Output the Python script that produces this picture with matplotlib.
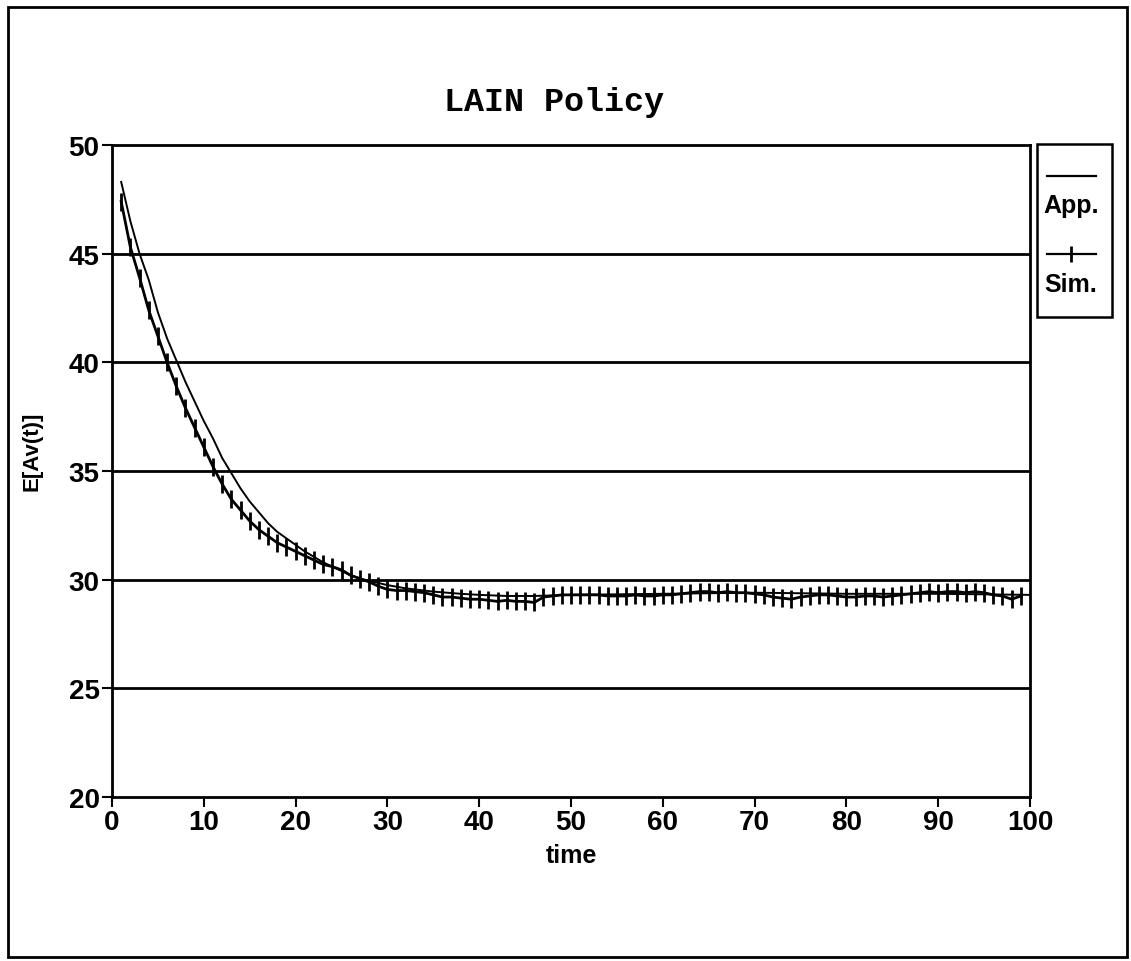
import matplotlib
matplotlib.use('Agg')
from matplotlib import pyplot as plt
from matplotlib.lines import Line2D
from matplotlib.patches import Rectangle

# simulated E[Av(t)], one sample per unit of time
sim_t = list(range(1, 100))
sim_v = [47.4, 45.3, 43.9, 42.4, 41.2, 40.0, 38.9, 37.9, 37.0, 36.1,
         35.2, 34.4, 33.7, 33.2, 32.7, 32.3, 32.0, 31.7, 31.5, 31.3,
         31.1, 30.9, 30.7, 30.6, 30.45, 30.2, 30.05, 29.9, 29.7, 29.55,
         29.5, 29.5, 29.45, 29.4, 29.3, 29.2, 29.2, 29.15, 29.1, 29.1,
         29.05, 29.0, 29.05, 29.0, 29.0, 28.95, 29.2, 29.25, 29.3, 29.3,
         29.3, 29.3, 29.3, 29.25, 29.25, 29.25, 29.3, 29.25, 29.25, 29.3,
         29.3, 29.35, 29.4, 29.45, 29.45, 29.4, 29.45, 29.4, 29.4, 29.35,
         29.3, 29.2, 29.15, 29.1, 29.2, 29.25, 29.3, 29.3, 29.25, 29.2,
         29.2, 29.25, 29.25, 29.2, 29.25, 29.3, 29.35, 29.4, 29.45, 29.4,
         29.45, 29.45, 29.4, 29.45, 29.4, 29.3, 29.25, 29.1, 29.25]

# approximation curve
app_t = [1, 2, 3, 4, 5, 6, 7, 8, 9, 10, 11, 12, 13, 14, 15, 16, 17, 18, 19, 20,
         21, 22, 23, 24, 25, 26, 27, 28, 30, 32, 35, 38, 40, 43, 46, 50, 60, 70, 80, 90, 100]
app_v = [48.3, 46.5, 45.0, 43.8, 42.3, 41.1, 40.1, 39.1, 38.2, 37.3,
         36.5, 35.6, 34.9, 34.2, 33.6, 33.1, 32.6, 32.2, 31.9, 31.6,
         31.3, 31.05, 30.8, 30.6, 30.4, 30.2, 30.05, 29.95, 29.75, 29.6,
         29.45, 29.35, 29.3, 29.25, 29.25, 29.3, 29.35, 29.4, 29.35, 29.35, 29.3]

x_ticks = [0, 10, 20, 30, 40, 50, 60, 70, 80, 90, 100]
y_ticks = [20, 25, 30, 35, 40, 45, 50]

W, H = 1131, 962
plt.rcParams['font.family'] = ['Liberation Sans', 'DejaVu Sans']

fig = plt.figure(figsize=(W / 100, H / 100), dpi=100)
ax = fig.add_axes([112 / W, 1 - 798 / H, (1030 - 112) / W, (798 - 146) / H])

for y in y_ticks[1:-1]:
    ax.axhline(y, color='black', lw=2.0, zorder=1)

ax.plot(app_t, app_v, color='black', lw=1.4, zorder=3)
ax.plot(sim_t, sim_v, color='black', lw=2.0, marker='|', markersize=13,
        markeredgewidth=2.0, zorder=4)

ax.set_xlim(0, 100)
ax.set_ylim(20, 50)
ax.set_xticks(x_ticks)
ax.set_yticks(y_ticks)
ax.tick_params(direction='out', length=7, width=1.5, labelsize=20, pad=2)
for lbl in ax.get_xticklabels() + ax.get_yticklabels():
    lbl.set_fontweight('bold')
for s in ax.spines.values():
    s.set_linewidth(2.0)

ax.set_xlabel('time', fontsize=18, fontweight='bold')
ax.xaxis.set_label_coords(0.5, -0.07)
ax.set_ylabel('E[Av(t)]', fontsize=16, fontweight='bold')
ax.yaxis.set_label_coords(-0.076, 0.531)

fig.text(554 / W, 1 - 103 / H, 'LAIN Policy', ha='center', va='center',
         fontsize=24, fontweight='bold', family=['Liberation Mono', 'DejaVu Sans Mono'])

# legend box drawn by hand: sample line above each label
fig.add_artist(Rectangle((1037 / W, 1 - 318 / H), 75 / W, 173 / H,
                         transform=fig.transFigure, fill=False, lw=1.8, color='black'))
fig.add_artist(Line2D([1047 / W, 1096 / W], [1 - 177 / H] * 2,
                      transform=fig.transFigure, color='black', lw=1.6))
fig.text(1071 / W, 1 - 206 / H, 'App.', ha='center', va='center',
         fontsize=18, fontweight='bold')
fig.add_artist(Line2D([1047 / W, 1071 / W, 1096 / W], [1 - 255 / H] * 3,
                      transform=fig.transFigure, color='black', lw=1.6,
                      marker='|', markevery=[1], markersize=12, markeredgewidth=2.0))
fig.text(1071 / W, 1 - 285 / H, 'Sim.', ha='center', va='center',
         fontsize=18, fontweight='bold')

# outer frame
fig.add_artist(Rectangle((8 / W, 1 - 958 / H), 1119 / W, 950 / H,
                         transform=fig.transFigure, fill=False, lw=2.0, color='black'))

fig.savefig('out.png', dpi=100)
